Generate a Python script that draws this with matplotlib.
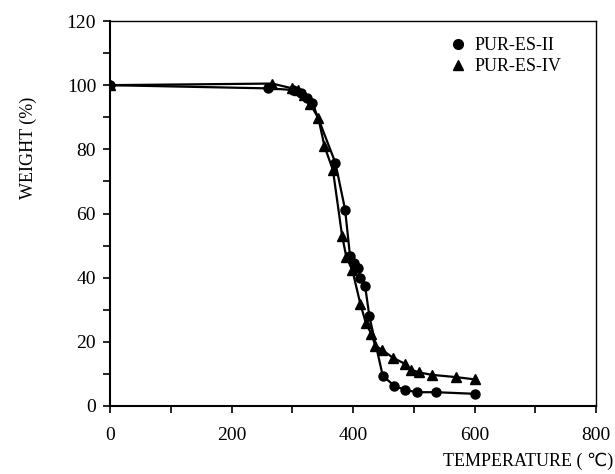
import matplotlib
matplotlib.use("Agg")
import matplotlib.pyplot as plt
from matplotlib.lines import Line2D
from matplotlib.ticker import MultipleLocator

plt.rcParams['font.family'] = ['Liberation Serif', 'DejaVu Sans']

series_names = ["PUR-ES-II", "PUR-ES-IV"]

temp_ii = [0, 260, 302, 315, 325, 333, 371, 387, 395, 402, 409, 412, 420, 427,
           449, 468, 486, 505, 537, 600]
weight_ii = [100, 99, 98.5, 97.5, 96, 94.5, 75.8, 61.2, 46.9, 44.5, 43, 40, 37.3, 27.9,
             9.4, 6.3, 5.0, 4.3, 4.3, 3.8]

temp_iv = [0, 267, 300, 310, 320, 330, 343, 353, 367, 382, 389, 399, 412, 421, 430,
           437, 448, 466, 486, 496, 508, 530, 570, 600]
weight_iv = [100, 100.5, 99, 98.5, 97, 94, 89.7, 81, 73.5, 53.1, 46.5, 42.3, 31.9, 26, 22.5,
             18.7, 17.5, 15, 13.1, 11.3, 10.5, 9.7, 9.0, 8.3]

x_ticks = [0, 200, 400, 600, 800]
y_ticks = [0, 20, 40, 60, 80, 100, 120]

fig = plt.figure(figsize=(6.15, 4.74), dpi=100)
ax = fig.add_axes([110/615, 1-406/474, 486/615, 385/474])

ax.plot(temp_ii, weight_ii, color='black', lw=1.6, marker='o', ms=6.5)
ax.plot(temp_iv, weight_iv, color='black', lw=1.6, marker='^', ms=6.5)

ax.set_xlim(0, 800)
ax.set_ylim(0, 120)
ax.set_xticks(x_ticks)
ax.set_yticks(y_ticks)
ax.xaxis.set_minor_locator(MultipleLocator(100))
ax.yaxis.set_minor_locator(MultipleLocator(10))
ax.tick_params(which='both', direction='out', length=5, width=1.2, labelsize=14, color='black')
ax.tick_params(axis='x', pad=10)
ax.tick_params(axis='y', pad=5)
for s in ax.spines.values():
    s.set_linewidth(1.0)
ax.spines['left'].set_linewidth(1.5)
ax.spines['bottom'].set_linewidth(1.5)

ax.set_xlabel("TEMPERATURE ( ℃)", fontsize=13)
ax.xaxis.label.set_ha('right')
ax.xaxis.set_label_coords(1.035, -0.12)
ax.set_ylabel("WEIGHT (%)", fontsize=13)
ax.yaxis.set_label_coords(-0.15, 0.67)

handles = [Line2D([], [], color='black', marker='o', ls='none', ms=7),
           Line2D([], [], color='black', marker='^', ls='none', ms=7)]
ax.legend(handles, series_names, loc='upper right', bbox_to_anchor=(0.954, 0.99),
          frameon=False, fontsize=13, handlelength=0.8, handletextpad=0.5,
          labelspacing=0.2, borderaxespad=0.3)

fig.savefig("out.png", dpi=100)
